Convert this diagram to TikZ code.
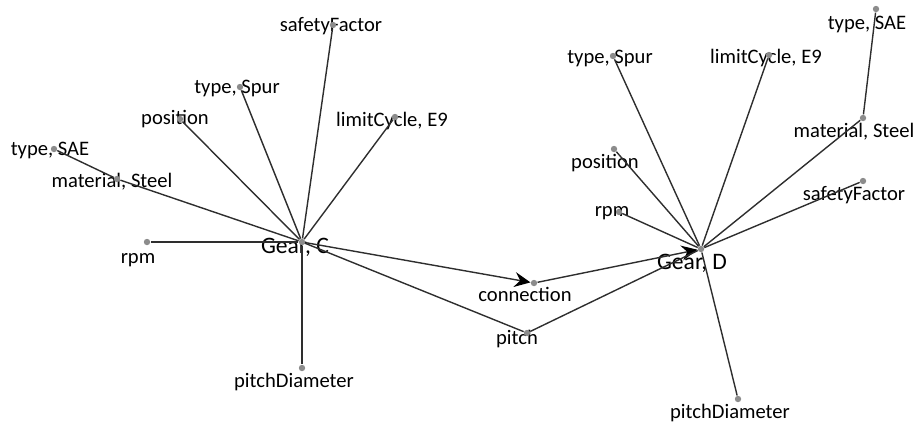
\documentclass[tikz,border=0pt]{standalone}
\usepackage{fontspec}
\setmainfont{Carlito}
\usetikzlibrary{arrows.meta}
\definecolor{linegray}{HTML}{2E2E2E}
\definecolor{dotgray}{HTML}{8C8C8C}
\begin{document}
\begin{tikzpicture}[x=0.5pt,y=-0.5pt,
  dot/.style={circle,fill=dotgray,inner sep=0pt,minimum size=3.2pt},
  lbl/.style={anchor=base,inner sep=0pt,font=\fontsize{10.3}{12}\selectfont},
  glbl/.style={anchor=base,inner sep=0pt,font=\fontsize{11.8}{14}\selectfont},
  link/.style={draw=linegray,line width=0.7pt},
  flow/.style={link,-{Stealth[length=8pt,width=7.5pt,inset=2.8pt,color=black]}}]
\useasboundingbox (0,0) rectangle (919,425);

% ---- labels ----
\node[glbl] (tGC)   at (295,253) {Gear, C};
\node[lbl]  (tsfC)  at (331,31)  {safetyFactor};
\node[lbl]  (tspC)  at (237,93)  {type, Spur};
\node[lbl]  (tpoC)  at (175,124) {position};
\node[lbl]  (tliC)  at (392,126) {limitCycle, E9};
\node[lbl]  (tsaC)  at (50,155)  {type, SAE};
\node[lbl]  (tmaC)  at (112,187) {material, Steel};
\node[lbl]  (trpC)  at (138,263) {rpm};
\node[lbl]  (tpdC)  at (294,387) {pitchDiameter};

\node[lbl]  (tcon)  at (525,301) {connection};
\node[lbl]  (tpit)  at (517,344) {pitch};

\node[glbl] (tGD)   at (692,269) {Gear, D};
\node[lbl]  (tspD)  at (610,63)  {type, Spur};
\node[lbl]  (tliD)  at (766,63)  {limitCycle, E9};
\node[lbl]  (tsaD)  at (867,29)  {type, SAE};
\node[lbl]  (tmaD)  at (854,137) {material, Steel};
\node[lbl]  (tpoD)  at (605,168) {position};
\node[lbl]  (trpD)  at (612,216) {rpm};
\node[lbl]  (tsfD)  at (854,200) {safetyFactor};
\node[lbl]  (tpdD)  at (730,418) {pitchDiameter};

% ---- points ----
\node[dot] (GC)  at (302,242) {};
\node[dot] (sfC) at (333,25)  {};
\node[dot] (spC) at (240,87)  {};
\node[dot] (poC) at (180,119) {};
\node[dot] (liC) at (395,117) {};
\node[dot] (saC) at (54,149)  {};
\node[dot] (maC) at (117,179) {};
\node[dot] (rpC) at (147,242) {};
\node[dot] (pdC) at (302,368) {};

\node[dot] (con) at (534,283) {};
\node[dot] (pit) at (527,333) {};

\node[dot] (GD)  at (701,249) {};
\node[dot] (spD) at (613,56)  {};
\node[dot] (liD) at (769,55)  {};
\node[dot] (saD) at (876,9)   {};
\node[dot] (maD) at (863,118) {};
\node[dot] (poD) at (614,149) {};
\node[dot] (rpD) at (619,212) {};
\node[dot] (sfD) at (863,181) {};
\node[dot] (pdD) at (738,399) {};

% ---- links of Gear C ----
\draw[link] (GC) -- (sfC);
\draw[link] (GC) -- (spC);
\draw[link] (GC) -- (poC);
\draw[link] (GC) -- (liC);
\draw[link] (GC) -- (maC);
\draw[link] (maC) -- (saC);
\draw[link] (GC) -- (rpC);
\draw[link] (GC) -- (pdC);

% ---- links of Gear D ----
\draw[link] (GD) -- (spD);
\draw[link] (GD) -- (liD);
\draw[link] (GD) -- (maD);
\draw[link] (maD) -- (saD);
\draw[link] (GD) -- (poD);
\draw[link] (GD) -- (rpD);
\draw[link] (GD) -- (sfD);
\draw[link] (GD) -- (pdD);

% ---- between the gears ----
\draw[flow] (GC) -- (con);
\draw[flow] (con) -- (GD);
\draw[link] (GC) -- (pit);
\draw[link] (pit) -- (GD);
\end{tikzpicture}
\end{document}
